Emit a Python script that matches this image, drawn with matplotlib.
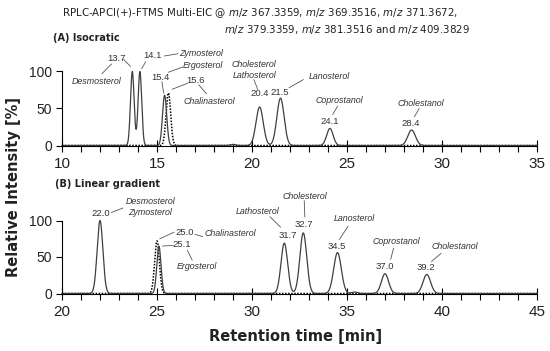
import numpy as np
import matplotlib.pyplot as plt
from matplotlib.ticker import MultipleLocator

plt.rcParams["mathtext.fontset"] = "dejavusans"

# peak tables: retention time [min], height [%], width (sigma) [min]
iso_rt = [13.7, 14.1, 15.4, 19.0, 20.4, 21.5, 24.1, 28.4]
iso_height = [100, 100, 68, 1.5, 52, 64, 23, 21]
iso_sigma = [0.095, 0.095, 0.11, 0.15, 0.19, 0.19, 0.17, 0.2]
iso_dot_rt = [15.6]
iso_dot_height = [71]
iso_dot_sigma = [0.12]

grad_rt = [22.0, 25.1, 31.7, 32.7, 34.5, 35.4, 37.0, 39.2]
grad_height = [100, 65, 69, 83, 56, 2, 27, 26]
grad_sigma = [0.15, 0.11, 0.175, 0.18, 0.2, 0.15, 0.19, 0.2]
grad_dot_rt = [25.0]
grad_dot_height = [72]
grad_dot_sigma = [0.125]

# label text, label position (data coords), leader line (x0, y0, x1, y1)
iso_labels = [
    ("13.7", 12.85, 117, (13.25, 116, 13.6, 107)),
    ("Desmosterol", 11.8, 87, (12.6, 110, 12.1, 97)),
    ("14.1", 14.75, 121, (14.4, 113, 14.2, 104)),
    ("Zymosterol", 17.3, 124, (15.4, 121, 16.1, 124)),
    ("Ergosterol", 17.4, 108, (15.6, 99, 16.35, 106)),
    ("15.4", 15.2, 92, (15.26, 86, 15.35, 71)),
    ("15.6", 17.0, 88, (16.6, 84, 15.8, 76)),
    ("Chalinasterol", 17.75, 60, (17.2, 82, 17.6, 70)),
    ("Cholesterol", 20.1, 110, None),
    ("Lathosterol", 20.15, 95, (20.1, 89, 20.3, 76)),
    ("20.4", 20.4, 70, None),
    ("21.5", 21.45, 72, (21.95, 78, 22.7, 89)),
    ("Lanosterol", 24.05, 93, None),
    ("Coprostanol", 24.6, 61, (24.5, 53, 24.25, 42)),
    ("24.1", 24.1, 32, None),
    ("Cholestanol", 28.9, 57, (28.8, 50, 28.55, 39)),
    ("28.4", 28.35, 30, None),
]

grad_labels = [
    ("22.0", 22.05, 109, (22.6, 111, 23.2, 117)),
    ("Desmosterol", 24.65, 126, None),
    ("Zymosterol", 24.65, 111, None),
    ("25.0", 26.45, 83, (25.9, 84, 25.15, 75)),
    ("Chalinasterol", 28.85, 82, (27.0, 81, 27.4, 78)),
    ("25.1", 26.3, 67, (25.85, 66, 25.3, 65)),
    ("Ergosterol", 27.1, 37, (26.6, 59, 26.85, 46)),
    ("Lathosterol", 30.3, 112, (30.95, 105, 31.5, 91)),
    ("31.7", 31.9, 80, None),
    ("Cholesterol", 32.8, 133, (32.75, 127, 32.78, 105)),
    ("32.7", 32.75, 94, None),
    ("Lanosterol", 35.4, 103, (35.05, 92, 34.6, 74)),
    ("34.5", 34.45, 64, None),
    ("Coprostanol", 37.6, 71, (37.45, 62, 37.3, 47)),
    ("37.0", 37.0, 37, None),
    ("Cholestanol", 40.7, 65, (39.95, 55, 39.45, 44)),
    ("39.2", 39.15, 36, None),
]


def trace(x, rts, heights, sigmas):
    y = np.zeros_like(x)
    for rt, h, s in zip(rts, heights, sigmas):
        y += h * np.exp(-0.5 * ((x - rt) / s) ** 2)
    return y


def style_axes(ax, xlo, xhi):
    ax.set_xlim(xlo, xhi)
    ax.set_ylim(0, 135)
    ax.spines["top"].set_visible(False)
    ax.spines["right"].set_visible(False)
    ax.spines["left"].set_bounds(0, 100)
    ax.spines["left"].set_linewidth(0.8)
    ax.spines["bottom"].set_linewidth(0.8)
    ax.set_yticks([0, 50, 100])
    ax.xaxis.set_major_locator(MultipleLocator(5))
    ax.xaxis.set_minor_locator(MultipleLocator(1))
    ax.tick_params(axis="x", which="major", direction="inout", length=8, width=0.8,
                   labelsize=11, pad=4)
    ax.tick_params(axis="x", which="minor", direction="out", length=4, width=0.8)
    ax.tick_params(axis="y", direction="out", length=4, width=0.8, labelsize=10, pad=3)
    for lab in ax.get_xticklabels() + ax.get_yticklabels():
        lab.set_family("Liberation Sans")
        lab.set_color("#222222")


def draw_panel(ax, xlo, xhi, solid, dotted, labels):
    x = np.linspace(xlo, xhi, 4000)
    ax.plot(x, trace(x, *dotted), ls=(0, (1, 1)), color="black", lw=1.1, clip_on=False)
    ax.plot(x, trace(x, *solid), color="#3f3f3f", lw=0.9, clip_on=False)
    for text, tx, ty, leader in labels:
        is_name = not text[0].isdigit()
        ax.text(tx, ty, text, ha="center", va="center",
                fontsize=6.4 if is_name else 6.8, style="italic" if is_name else "normal",
                family="Liberation Sans", color="#333333")
        if leader is not None:
            ax.plot([leader[0], leader[2]], [leader[1], leader[3]], color="#555555", lw=0.6)
    style_axes(ax, xlo, xhi)


fig = plt.figure(figsize=(5.5, 3.51), dpi=100)


def add_axes_px(left, right, y0, px_per_unit):
    return fig.add_axes([left / 550, (351 - y0) / 351, (right - left) / 550,
                         135 * px_per_unit / 351])


ax_a = add_axes_px(62, 537, 145.5, 0.74)
ax_b = add_axes_px(62, 537, 293.5, 0.73)

draw_panel(ax_a, 10, 35, (iso_rt, iso_height, iso_sigma),
           (iso_dot_rt, iso_dot_height, iso_dot_sigma), iso_labels)
draw_panel(ax_b, 20, 45, (grad_rt, grad_height, grad_sigma),
           (grad_dot_rt, grad_dot_height, grad_dot_sigma), grad_labels)

fig.text(62 / 550, 1 - 13 / 351,
         r"RPLC-APCI(+)-FTMS Multi-EIC @ $\it{m/z}$ 367.3359, $\it{m/z}$ 369.3516, $\it{m/z}$ 371.3672,",
         ha="left", va="center", fontsize=7.4, color="#222222")
fig.text(470 / 550, 1 - 30 / 351,
         r"$\it{m/z}$ 379.3359, $\it{m/z}$ 381.3516 and $\it{m/z}$ 409.3829",
         ha="right", va="center", fontsize=7.4, color="#222222")
fig.text(53 / 550, 1 - 38 / 351, "(A) Isocratic", ha="left", va="center",
         fontsize=7, fontweight="bold", color="#222222")
fig.text(55 / 550, 1 - 184 / 351, "(B) Linear gradient", ha="left", va="center",
         fontsize=7, fontweight="bold", color="#222222")
fig.text(14 / 550, 1 - 187 / 351, "Relative Intensity [%]", rotation=90,
         ha="center", va="center", fontsize=10.5, fontweight="bold", color="#222222")
fig.text(296 / 550, 1 - 336 / 351, "Retention time [min]", ha="center", va="center",
         fontsize=10.5, fontweight="bold", color="#222222")

fig.savefig("out.png", dpi=100)
